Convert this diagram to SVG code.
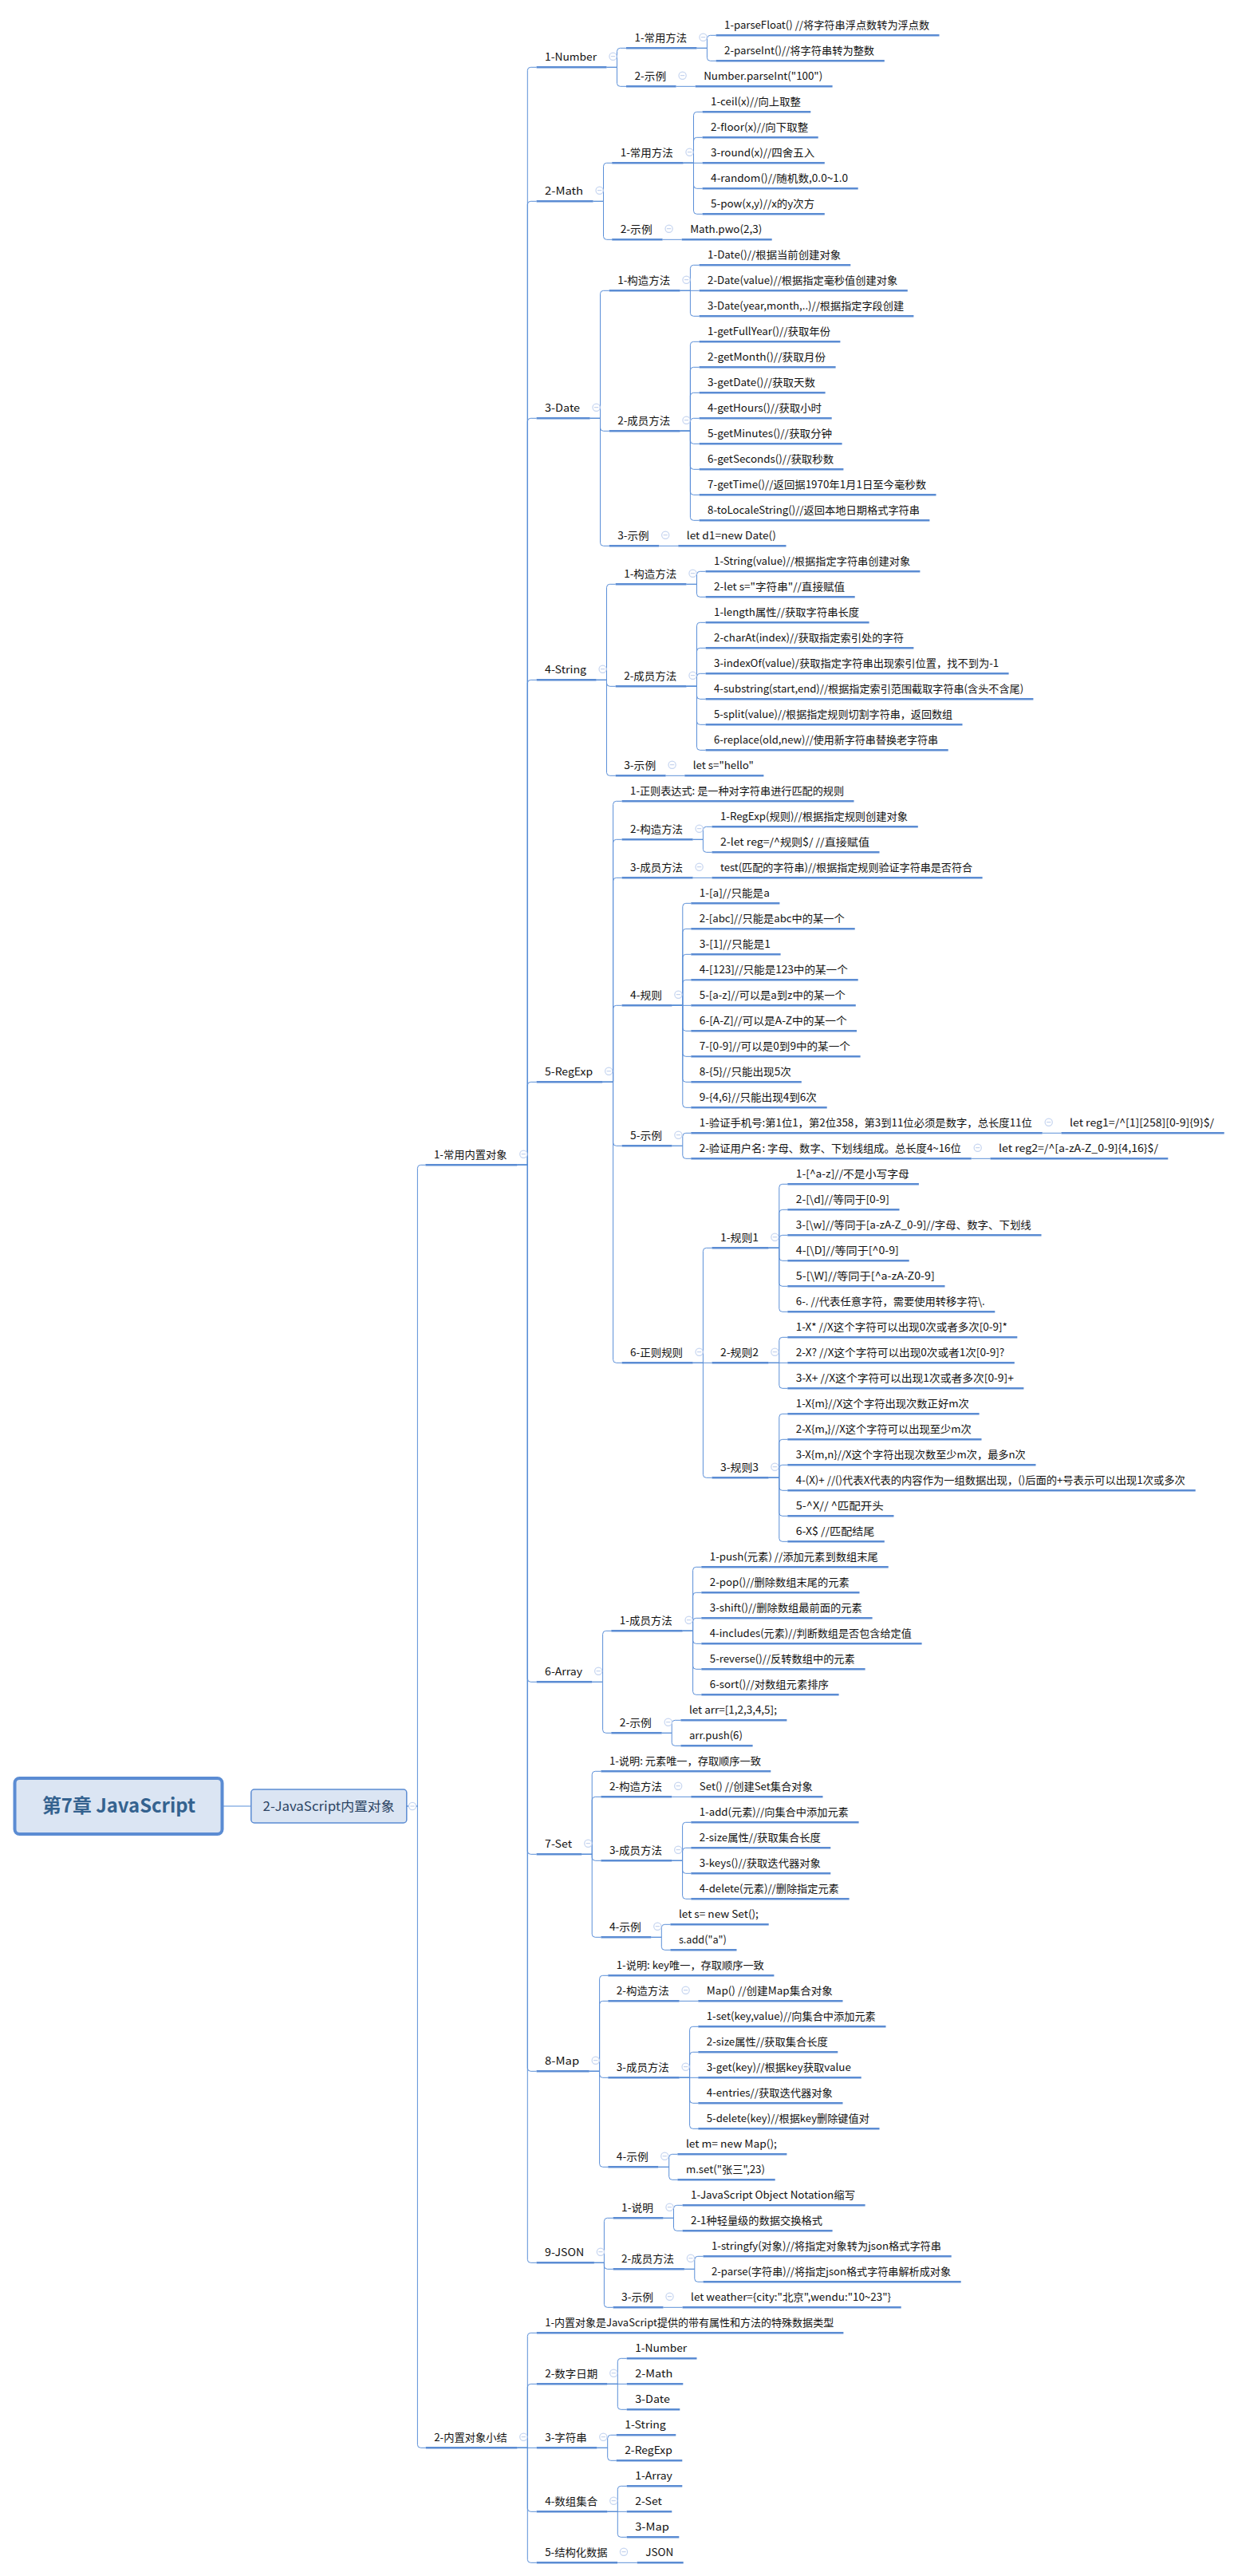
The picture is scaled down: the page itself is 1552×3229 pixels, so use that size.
<svg xmlns="http://www.w3.org/2000/svg" width="1552" height="3229" viewBox="0 0 1552 3229">
<style>
text{font-family:"Noto Sans CJK SC","Liberation Sans",sans-serif;font-size:13px;fill:#111}
.u{fill:none;stroke:#5b8cd3;stroke-width:2.6}
#edges path{fill:none;stroke:#5b8fd8;stroke-width:1}
.m circle{fill:#fff;stroke:#c6d5f0;stroke-width:1.2}
.m path{fill:none;stroke:#b9cbea;stroke-width:1}
.box{fill:#dbe5f3;stroke:#5b8cd3}
</style>
<defs><g id="m" class="m"><circle r="4.6"/><path d="M-2.6 0H2.6"/></g></defs>
<rect width="1552" height="3229" fill="#fff"/>
<g id="edges">
<path d="M280 2264H314.4"/>
<path d="M510 2264H523.4V1464.3q0-4 4-4H533.4"/>
<path d="M510 2264H523.4V3064.3q0 4 4 4H533.7"/>
<path d="M648.3 1460.3H661.3V88.3q0-4 4-4H672.6"/>
<path d="M648.3 1460.3H661.3V256.3q0-4 4-4H672.6"/>
<path d="M648.3 1460.3H661.3V528.3q0-4 4-4H672.6"/>
<path d="M648.3 1460.3H661.3V856.3q0-4 4-4H672.6"/>
<path d="M648.3 1460.3H661.3V1360.3q0-4 4-4H672.6"/>
<path d="M648.3 1460.3H661.3V2104.3q0 4 4 4H672.6"/>
<path d="M648.3 1460.3H661.3V2320.3q0 4 4 4H672.6"/>
<path d="M648.3 1460.3H661.3V2592.3q0 4 4 4H672.6"/>
<path d="M648.3 1460.3H661.3V2832.3q0 4 4 4H672.6"/>
<path d="M648.3 3068.3H661.3V2928.3q0-4 4-4H672.7"/>
<path d="M648.3 3068.3H661.3V2992.3q0-4 4-4H672.7"/>
<path d="M648.3 3068.3H672.7"/>
<path d="M648.3 3068.3H661.3V3144.3q0 4 4 4H672.7"/>
<path d="M648.3 3068.3H661.3V3208.3q0 4 4 4H672.7"/>
<path d="M760.5 84.3H773.5V64.3q0-4 4-4H785"/>
<path d="M760.5 84.3H773.5V104.3q0 4 4 4H785"/>
<path d="M873.5 60.3H886.4V48.3q0-4 4-4H897.6"/>
<path d="M873.5 60.3H886.4V72.3q0 4 4 4H897.6"/>
<path d="M847.6 108.3H871.7"/>
<path d="M743.6 252.3H756.5V208.3q0-4 4-4H767.2"/>
<path d="M743.6 252.3H756.5V296.3q0 4 4 4H767.2"/>
<path d="M856.5 204.3H869.5V144.3q0-4 4-4H880.6"/>
<path d="M856.5 204.3H869.5V176.3q0-4 4-4H880.6"/>
<path d="M856.5 204.3H880.6"/>
<path d="M856.5 204.3H869.5V232.3q0 4 4 4H880.6"/>
<path d="M856.5 204.3H869.5V264.3q0 4 4 4H880.6"/>
<path d="M830.6 300.3H854.7"/>
<path d="M739.6 524.3H752.5V368.3q0-4 4-4H763.7"/>
<path d="M739.6 524.3H752.5V536.3q0 4 4 4H763.7"/>
<path d="M739.6 524.3H752.5V680.3q0 4 4 4H763.7"/>
<path d="M852.5 364.3H865.4V336.3q0-4 4-4H876.6"/>
<path d="M852.5 364.3H876.6"/>
<path d="M852.5 364.3H865.4V392.3q0 4 4 4H876.6"/>
<path d="M852.5 540.3H865.4V432.3q0-4 4-4H876.6"/>
<path d="M852.5 540.3H865.4V464.3q0-4 4-4H876.6"/>
<path d="M852.5 540.3H865.4V496.3q0-4 4-4H876.6"/>
<path d="M852.5 540.3H865.4V528.3q0-4 4-4H876.6"/>
<path d="M852.5 540.3H865.4V552.3q0 4 4 4H876.6"/>
<path d="M852.5 540.3H865.4V584.3q0 4 4 4H876.6"/>
<path d="M852.5 540.3H865.4V616.3q0 4 4 4H876.6"/>
<path d="M852.5 540.3H865.4V648.3q0 4 4 4H876.6"/>
<path d="M826.2 684.3H850.3"/>
<path d="M747.6 852.3H760.5V736.3q0-4 4-4H771.7"/>
<path d="M747.6 852.3H760.5V856.3q0 4 4 4H771.7"/>
<path d="M747.6 852.3H760.5V968.3q0 4 4 4H771.7"/>
<path d="M860.5 732.3H873.5V720.3q0-4 4-4H884.6"/>
<path d="M860.5 732.3H873.5V744.3q0 4 4 4H884.6"/>
<path d="M860.5 860.3H873.5V784.3q0-4 4-4H884.6"/>
<path d="M860.5 860.3H873.5V816.3q0-4 4-4H884.6"/>
<path d="M860.5 860.3H873.5V848.3q0-4 4-4H884.6"/>
<path d="M860.5 860.3H873.5V872.3q0 4 4 4H884.6"/>
<path d="M860.5 860.3H873.5V904.3q0 4 4 4H884.6"/>
<path d="M860.5 860.3H873.5V936.3q0 4 4 4H884.6"/>
<path d="M834.6 972.3H858.3"/>
<path d="M755.2 1356.3H768.6V1008.3q0-4 4-4H779.6"/>
<path d="M755.2 1356.3H768.6V1056.3q0-4 4-4H779.6"/>
<path d="M755.2 1356.3H768.6V1104.3q0-4 4-4H779.6"/>
<path d="M755.2 1356.3H768.6V1264.3q0-4 4-4H779.6"/>
<path d="M755.2 1356.3H768.6V1432.3q0 4 4 4H779.6"/>
<path d="M755.2 1356.3H768.6V1704.3q0 4 4 4H779.6"/>
<path d="M868.6 1052.3H881.4V1040.3q0-4 4-4H892.5"/>
<path d="M868.6 1052.3H881.4V1064.3q0 4 4 4H892.5"/>
<path d="M868.6 1100.3H892.5"/>
<path d="M842.4 1260.3H855.8V1136.3q0-4 4-4H866.3"/>
<path d="M842.4 1260.3H855.8V1168.3q0-4 4-4H866.3"/>
<path d="M842.4 1260.3H855.8V1200.3q0-4 4-4H866.3"/>
<path d="M842.4 1260.3H855.8V1232.3q0-4 4-4H866.3"/>
<path d="M842.4 1260.3H866.3"/>
<path d="M842.4 1260.3H855.8V1288.3q0 4 4 4H866.3"/>
<path d="M842.4 1260.3H855.8V1320.3q0 4 4 4H866.3"/>
<path d="M842.4 1260.3H855.8V1352.3q0 4 4 4H866.3"/>
<path d="M842.4 1260.3H855.8V1384.3q0 4 4 4H866.3"/>
<path d="M842.4 1436.3H855.8V1424.3q0-4 4-4H866.3"/>
<path d="M842.4 1436.3H855.8V1448.3q0 4 4 4H866.3"/>
<path d="M1306.7 1420.3H1330.5"/>
<path d="M1217.7 1452.3H1241.5"/>
<path d="M868.6 1708.3H881.4V1568.3q0-4 4-4H892.5"/>
<path d="M868.6 1708.3H892.5"/>
<path d="M868.6 1708.3H881.4V1848.3q0 4 4 4H892.5"/>
<path d="M963.4 1564.3H976.8V1488.3q0-4 4-4H987.3"/>
<path d="M963.4 1564.3H976.8V1520.3q0-4 4-4H987.3"/>
<path d="M963.4 1564.3H976.8V1552.3q0-4 4-4H987.3"/>
<path d="M963.4 1564.3H976.8V1576.3q0 4 4 4H987.3"/>
<path d="M963.4 1564.3H976.8V1608.3q0 4 4 4H987.3"/>
<path d="M963.4 1564.3H976.8V1640.3q0 4 4 4H987.3"/>
<path d="M963.4 1708.3H976.8V1680.3q0-4 4-4H987.3"/>
<path d="M963.4 1708.3H987.3"/>
<path d="M963.4 1708.3H976.8V1736.3q0 4 4 4H987.3"/>
<path d="M963.4 1852.3H976.8V1776.3q0-4 4-4H987.3"/>
<path d="M963.4 1852.3H976.8V1808.3q0-4 4-4H987.3"/>
<path d="M963.4 1852.3H976.8V1840.3q0-4 4-4H987.3"/>
<path d="M963.4 1852.3H976.8V1864.3q0 4 4 4H987.3"/>
<path d="M963.4 1852.3H976.8V1896.3q0 4 4 4H987.3"/>
<path d="M963.4 1852.3H976.8V1928.3q0 4 4 4H987.3"/>
<path d="M742.2 2108.3H755.6V2048.3q0-4 4-4H766.3"/>
<path d="M742.2 2108.3H755.6V2168.3q0 4 4 4H766.3"/>
<path d="M855.6 2044.3H868.6V1968.3q0-4 4-4H879.3"/>
<path d="M855.6 2044.3H868.6V2000.3q0-4 4-4H879.3"/>
<path d="M855.6 2044.3H868.6V2032.3q0-4 4-4H879.3"/>
<path d="M855.6 2044.3H868.6V2056.3q0 4 4 4H879.3"/>
<path d="M855.6 2044.3H868.6V2088.3q0 4 4 4H879.3"/>
<path d="M855.6 2044.3H868.6V2120.3q0 4 4 4H879.3"/>
<path d="M829.7 2172.3H842.2V2160.3q0-4 4-4H853.4"/>
<path d="M829.7 2172.3H842.2V2184.3q0 4 4 4H853.4"/>
<path d="M729.3 2324.3H742.2V2224.3q0-4 4-4H753.4"/>
<path d="M729.3 2324.3H742.2V2256.3q0-4 4-4H753.4"/>
<path d="M729.3 2324.3H742.2V2328.3q0 4 4 4H753.4"/>
<path d="M729.3 2324.3H742.2V2424.3q0 4 4 4H753.4"/>
<path d="M842.2 2252.3H866.3"/>
<path d="M842.2 2332.3H855.6V2288.3q0-4 4-4H866.3"/>
<path d="M842.2 2332.3H855.6V2320.3q0-4 4-4H866.3"/>
<path d="M842.2 2332.3H855.6V2344.3q0 4 4 4H866.3"/>
<path d="M842.2 2332.3H855.6V2376.3q0 4 4 4H866.3"/>
<path d="M816.3 2428.3H829.3V2416.3q0-4 4-4H840.4"/>
<path d="M816.3 2428.3H829.3V2440.3q0 4 4 4H840.4"/>
<path d="M738.7 2596.3H751.6V2480.3q0-4 4-4H762.3"/>
<path d="M738.7 2596.3H751.6V2512.3q0-4 4-4H762.3"/>
<path d="M738.7 2596.3H751.6V2600.3q0 4 4 4H762.3"/>
<path d="M738.7 2596.3H751.6V2712.3q0 4 4 4H762.3"/>
<path d="M851.6 2508.3H875.3"/>
<path d="M851.6 2604.3H864.6V2544.3q0-4 4-4H875.3"/>
<path d="M851.6 2604.3H864.6V2576.3q0-4 4-4H875.3"/>
<path d="M851.6 2604.3H875.3"/>
<path d="M851.6 2604.3H864.6V2632.3q0 4 4 4H875.3"/>
<path d="M851.6 2604.3H864.6V2664.3q0 4 4 4H875.3"/>
<path d="M825.3 2716.3H838.7V2704.3q0-4 4-4H849.4"/>
<path d="M825.3 2716.3H838.7V2728.3q0 4 4 4H849.4"/>
<path d="M744.9 2836.3H757.4V2784.3q0-4 4-4H768.6"/>
<path d="M744.9 2836.3H757.4V2840.3q0 4 4 4H768.6"/>
<path d="M744.9 2836.3H757.4V2888.3q0 4 4 4H768.6"/>
<path d="M831.5 2780.3H844.5V2768.3q0-4 4-4H855.6"/>
<path d="M831.5 2780.3H844.5V2792.3q0 4 4 4H855.6"/>
<path d="M857.9 2844.3H870.8V2832.3q0-4 4-4H881.5"/>
<path d="M857.9 2844.3H870.8V2856.3q0 4 4 4H881.5"/>
<path d="M831.5 2892.3H855.6"/>
<path d="M761.3 2988.3H774.3V2960.3q0-4 4-4H785.7"/>
<path d="M761.3 2988.3H785.7"/>
<path d="M761.3 2988.3H774.3V3016.3q0 4 4 4H785.7"/>
<path d="M748.3 3068.3H761.7V3056.3q0-4 4-4H772.7"/>
<path d="M748.3 3068.3H761.7V3080.3q0 4 4 4H772.7"/>
<path d="M761.3 3148.3H774.3V3120.3q0-4 4-4H785.7"/>
<path d="M761.3 3148.3H785.7"/>
<path d="M761.3 3148.3H774.3V3176.3q0 4 4 4H785.7"/>
<path d="M774 3212.3H798.7"/>
</g>
<g id="root"><rect class="box" x="18.5" y="2229" width="260" height="70" rx="6" stroke-width="4"/><text x="53" y="2272" textLength="192" lengthAdjust="spacingAndGlyphs" style="font-size:24px;font-weight:700;fill:#34628f">第7章 JavaScript</text></g>
<g id="main"><rect class="box" x="314.8" y="2243" width="195" height="42" rx="4" stroke-width="1.5"/><text x="329.6" y="2270" textLength="165" lengthAdjust="spacingAndGlyphs" style="font-size:16px;fill:#2c4463">2-JavaScript内置对象</text><use href="#m" x="517" y="2264"/></g>
<g id="n1"><path class="u" d="M533.4 1460.3H648.3"/><text x="544" y="1452" textLength="91.5" lengthAdjust="spacingAndGlyphs">1-常用内置对象</text><use href="#m" x="656.3" y="1446.7"/></g>
<g id="n1-1"><path class="u" d="M672.6 84.3H760.5"/><text x="683.1" y="76" textLength="65" lengthAdjust="spacingAndGlyphs">1-Number</text><use href="#m" x="768.5" y="70.7"/></g>
<g id="n1-1-1"><path class="u" d="M785 60.3H873.5"/><text x="795.5" y="52" textLength="65.5" lengthAdjust="spacingAndGlyphs">1-常用方法</text><use href="#m" x="881.5" y="46.7"/></g>
<g id="n1-1-1-1"><path class="u" d="M897.6 44.3H1177.5"/><text x="908.1" y="36" textLength="257" lengthAdjust="spacingAndGlyphs">1-parseFloat() //将字符串浮点数转为浮点数</text></g>
<g id="n1-1-1-2"><path class="u" d="M897.6 76.3H1108.8"/><text x="908.1" y="68" textLength="188" lengthAdjust="spacingAndGlyphs">2-parseInt()//将字符串转为整数</text></g>
<g id="n1-1-2"><path class="u" d="M785 108.3H847.6"/><text x="795.5" y="100" textLength="39.6" lengthAdjust="spacingAndGlyphs">2-示例</text><use href="#m" x="855.6" y="94.7"/></g>
<g id="n1-1-2-1"><path class="u" d="M871.7 108.3H1043.6"/><text x="882.2" y="100" textLength="149" lengthAdjust="spacingAndGlyphs">Number.parseInt("100")</text></g>
<g id="n1-2"><path class="u" d="M672.6 252.3H743.6"/><text x="683.1" y="244" textLength="48" lengthAdjust="spacingAndGlyphs">2-Math</text><use href="#m" x="751.6" y="238.7"/></g>
<g id="n1-2-1"><path class="u" d="M767.2 204.3H856.5"/><text x="777.7" y="196" textLength="66" lengthAdjust="spacingAndGlyphs">1-常用方法</text><use href="#m" x="864.5" y="190.7"/></g>
<g id="n1-2-1-1"><path class="u" d="M880.6 140.3H1016.3"/><text x="891.1" y="132" textLength="112.7" lengthAdjust="spacingAndGlyphs">1-ceil(x)//向上取整</text></g>
<g id="n1-2-1-2"><path class="u" d="M880.6 172.3H1025.7"/><text x="891.1" y="164" textLength="122" lengthAdjust="spacingAndGlyphs">2-floor(x)//向下取整</text></g>
<g id="n1-2-1-3"><path class="u" d="M880.6 204.3H1033.8"/><text x="891.1" y="196" textLength="130" lengthAdjust="spacingAndGlyphs">3-round(x)//四舍五入</text></g>
<g id="n1-2-1-4"><path class="u" d="M880.6 236.3H1075.7"/><text x="891.1" y="228" textLength="172" lengthAdjust="spacingAndGlyphs">4-random()//随机数,0.0~1.0</text></g>
<g id="n1-2-1-5"><path class="u" d="M880.6 268.3H1033.8"/><text x="891.1" y="260" textLength="130" lengthAdjust="spacingAndGlyphs">5-pow(x,y)//x的y次方</text></g>
<g id="n1-2-2"><path class="u" d="M767.2 300.3H830.6"/><text x="777.7" y="292" textLength="40" lengthAdjust="spacingAndGlyphs">2-示例</text><use href="#m" x="838.6" y="286.7"/></g>
<g id="n1-2-2-1"><path class="u" d="M854.7 300.3H967.7"/><text x="865.2" y="292" textLength="90" lengthAdjust="spacingAndGlyphs">Math.pwo(2,3)</text></g>
<g id="n1-3"><path class="u" d="M672.6 524.3H739.6"/><text x="683.1" y="516" textLength="44" lengthAdjust="spacingAndGlyphs">3-Date</text><use href="#m" x="747.6" y="510.7"/></g>
<g id="n1-3-1"><path class="u" d="M763.7 364.3H852.5"/><text x="774.2" y="356" textLength="66" lengthAdjust="spacingAndGlyphs">1-构造方法</text><use href="#m" x="860.5" y="350.7"/></g>
<g id="n1-3-1-1"><path class="u" d="M876.6 332.3H1066.3"/><text x="887.1" y="324" textLength="167" lengthAdjust="spacingAndGlyphs">1-Date()//根据当前创建对象</text></g>
<g id="n1-3-1-2"><path class="u" d="M876.6 364.3H1137.8"/><text x="887.1" y="356" textLength="238" lengthAdjust="spacingAndGlyphs">2-Date(value)//根据指定毫秒值创建对象</text></g>
<g id="n1-3-1-3"><path class="u" d="M876.6 396.3H1145.4"/><text x="887.1" y="388" textLength="246" lengthAdjust="spacingAndGlyphs">3-Date(year,month,..)//根据指定字段创建</text></g>
<g id="n1-3-2"><path class="u" d="M763.7 540.3H852.5"/><text x="774.2" y="532" textLength="66" lengthAdjust="spacingAndGlyphs">2-成员方法</text><use href="#m" x="860.5" y="526.7"/></g>
<g id="n1-3-2-1"><path class="u" d="M876.6 428.3H1053.4"/><text x="887.1" y="420" textLength="154" lengthAdjust="spacingAndGlyphs">1-getFullYear()//获取年份</text></g>
<g id="n1-3-2-2"><path class="u" d="M876.6 460.3H1047.6"/><text x="887.1" y="452" textLength="148" lengthAdjust="spacingAndGlyphs">2-getMonth()//获取月份</text></g>
<g id="n1-3-2-3"><path class="u" d="M876.6 492.3H1034.6"/><text x="887.1" y="484" textLength="135" lengthAdjust="spacingAndGlyphs">3-getDate()//获取天数</text></g>
<g id="n1-3-2-4"><path class="u" d="M876.6 524.3H1042.7"/><text x="887.1" y="516" textLength="143" lengthAdjust="spacingAndGlyphs">4-getHours()//获取小时</text></g>
<g id="n1-3-2-5"><path class="u" d="M876.6 556.3H1055.6"/><text x="887.1" y="548" textLength="156" lengthAdjust="spacingAndGlyphs">5-getMinutes()//获取分钟</text></g>
<g id="n1-3-2-6"><path class="u" d="M876.6 588.3H1057.4"/><text x="887.1" y="580" textLength="158" lengthAdjust="spacingAndGlyphs">6-getSeconds()//获取秒数</text></g>
<g id="n1-3-2-7"><path class="u" d="M876.6 620.3H1173.5"/><text x="887.1" y="612" textLength="274" lengthAdjust="spacingAndGlyphs">7-getTime()//返回据1970年1月1日至今毫秒数</text></g>
<g id="n1-3-2-8"><path class="u" d="M876.6 652.3H1165.4"/><text x="887.1" y="644" textLength="266" lengthAdjust="spacingAndGlyphs">8-toLocaleString()//返回本地日期格式字符串</text></g>
<g id="n1-3-3"><path class="u" d="M763.7 684.3H826.2"/><text x="774.2" y="676" textLength="39.5" lengthAdjust="spacingAndGlyphs">3-示例</text><use href="#m" x="834.2" y="670.7"/></g>
<g id="n1-3-3-1"><path class="u" d="M850.3 684.3H985.5"/><text x="860.8" y="676" textLength="112" lengthAdjust="spacingAndGlyphs">let d1=new Date()</text></g>
<g id="n1-4"><path class="u" d="M672.6 852.3H747.6"/><text x="683.1" y="844" textLength="52" lengthAdjust="spacingAndGlyphs">4-String</text><use href="#m" x="755.6" y="838.7"/></g>
<g id="n1-4-1"><path class="u" d="M771.7 732.3H860.5"/><text x="782.2" y="724" textLength="66" lengthAdjust="spacingAndGlyphs">1-构造方法</text><use href="#m" x="868.5" y="718.7"/></g>
<g id="n1-4-1-1"><path class="u" d="M884.6 716.3H1153.4"/><text x="895.1" y="708" textLength="246" lengthAdjust="spacingAndGlyphs">1-String(value)//根据指定字符串创建对象</text></g>
<g id="n1-4-1-2"><path class="u" d="M884.6 748.3H1071.7"/><text x="895.1" y="740" textLength="164" lengthAdjust="spacingAndGlyphs">2-let s="字符串"//直接赋值</text></g>
<g id="n1-4-2"><path class="u" d="M771.7 860.3H860.5"/><text x="782.2" y="852" textLength="66" lengthAdjust="spacingAndGlyphs">2-成员方法</text><use href="#m" x="868.5" y="846.7"/></g>
<g id="n1-4-2-1"><path class="u" d="M884.6 780.3H1089.6"/><text x="895.1" y="772" textLength="182" lengthAdjust="spacingAndGlyphs">1-length属性//获取字符串长度</text></g>
<g id="n1-4-2-2"><path class="u" d="M884.6 812.3H1145.4"/><text x="895.1" y="804" textLength="238" lengthAdjust="spacingAndGlyphs">2-charAt(index)//获取指定索引处的字符</text></g>
<g id="n1-4-2-3"><path class="u" d="M884.6 844.3H1264.6"/><text x="895.1" y="836" textLength="357" lengthAdjust="spacingAndGlyphs">3-indexOf(value)/获取指定字符串出现索引位置，找不到为-1</text></g>
<g id="n1-4-2-4"><path class="u" d="M884.6 876.3H1295.4"/><text x="895.1" y="868" textLength="388" lengthAdjust="spacingAndGlyphs">4-substring(start,end)//根据指定索引范围截取字符串(含头不含尾)</text></g>
<g id="n1-4-2-5"><path class="u" d="M884.6 908.3H1206.5"/><text x="895.1" y="900" textLength="299" lengthAdjust="spacingAndGlyphs">5-split(value)//根据指定规则切割字符串，返回数组</text></g>
<g id="n1-4-2-6"><path class="u" d="M884.6 940.3H1188.7"/><text x="895.1" y="932" textLength="281" lengthAdjust="spacingAndGlyphs">6-replace(old,new)//使用新字符串替换老字符串</text></g>
<g id="n1-4-3"><path class="u" d="M771.7 972.3H834.6"/><text x="782.2" y="964" textLength="40" lengthAdjust="spacingAndGlyphs">3-示例</text><use href="#m" x="842.6" y="958.7"/></g>
<g id="n1-4-3-1"><path class="u" d="M858.3 972.3H957.4"/><text x="868.8" y="964" textLength="76" lengthAdjust="spacingAndGlyphs">let s="hello"</text></g>
<g id="n1-5"><path class="u" d="M672.6 1356.3H755.2"/><text x="683.1" y="1348" textLength="60" lengthAdjust="spacingAndGlyphs">5-RegExp</text><use href="#m" x="763.2" y="1342.7"/></g>
<g id="n1-5-1"><path class="u" d="M779.6 1004.3H1070.5"/><text x="790.1" y="996" textLength="268" lengthAdjust="spacingAndGlyphs">1-正则表达式: 是一种对字符串进行匹配的规则</text></g>
<g id="n1-5-2"><path class="u" d="M779.6 1052.3H868.6"/><text x="790.1" y="1044" textLength="66" lengthAdjust="spacingAndGlyphs">2-构造方法</text><use href="#m" x="876.6" y="1038.7"/></g>
<g id="n1-5-2-1"><path class="u" d="M892.5 1036.3H1150.8"/><text x="903" y="1028" textLength="235" lengthAdjust="spacingAndGlyphs">1-RegExp(规则)//根据指定规则创建对象</text></g>
<g id="n1-5-2-2"><path class="u" d="M892.5 1068.3H1102.5"/><text x="903" y="1060" textLength="187" lengthAdjust="spacingAndGlyphs">2-let reg=/^规则$/ //直接赋值</text></g>
<g id="n1-5-3"><path class="u" d="M779.6 1100.3H868.6"/><text x="790.1" y="1092" textLength="66" lengthAdjust="spacingAndGlyphs">3-成员方法</text><use href="#m" x="876.6" y="1086.7"/></g>
<g id="n1-5-3-1"><path class="u" d="M892.5 1100.3H1231.6"/><text x="903" y="1092" textLength="316" lengthAdjust="spacingAndGlyphs">test(匹配的字符串)//根据指定规则验证字符串是否符合</text></g>
<g id="n1-5-4"><path class="u" d="M779.6 1260.3H842.4"/><text x="790.1" y="1252" textLength="40" lengthAdjust="spacingAndGlyphs">4-规则</text><use href="#m" x="850.4" y="1246.7"/></g>
<g id="n1-5-4-1"><path class="u" d="M866.3 1132.3H977.4"/><text x="876.8" y="1124" textLength="88" lengthAdjust="spacingAndGlyphs">1-[a]//只能是a</text></g>
<g id="n1-5-4-2"><path class="u" d="M866.3 1164.3H1071.7"/><text x="876.8" y="1156" textLength="182" lengthAdjust="spacingAndGlyphs">2-[abc]//只能是abc中的某一个</text></g>
<g id="n1-5-4-3"><path class="u" d="M866.3 1196.3H978.6"/><text x="876.8" y="1188" textLength="89" lengthAdjust="spacingAndGlyphs">3-[1]//只能是1</text></g>
<g id="n1-5-4-4"><path class="u" d="M866.3 1228.3H1075.7"/><text x="876.8" y="1220" textLength="186" lengthAdjust="spacingAndGlyphs">4-[123]//只能是123中的某一个</text></g>
<g id="n1-5-4-5"><path class="u" d="M866.3 1260.3H1072.8"/><text x="876.8" y="1252" textLength="183" lengthAdjust="spacingAndGlyphs">5-[a-z]//可以是a到z中的某一个</text></g>
<g id="n1-5-4-6"><path class="u" d="M866.3 1292.3H1074"/><text x="876.8" y="1284" textLength="185" lengthAdjust="spacingAndGlyphs">6-[A-Z]//可以是A-Z中的某一个</text></g>
<g id="n1-5-4-7"><path class="u" d="M866.3 1324.3H1078.6"/><text x="876.8" y="1316" textLength="189" lengthAdjust="spacingAndGlyphs">7-[0-9]//可以是0到9中的某一个</text></g>
<g id="n1-5-4-8"><path class="u" d="M866.3 1356.3H1004.8"/><text x="876.8" y="1348" textLength="115" lengthAdjust="spacingAndGlyphs">8-{5}//只能出现5次</text></g>
<g id="n1-5-4-9"><path class="u" d="M866.3 1388.3H1036.7"/><text x="876.8" y="1380" textLength="147" lengthAdjust="spacingAndGlyphs">9-{4,6}//只能出现4到6次</text></g>
<g id="n1-5-5"><path class="u" d="M779.6 1436.3H842.4"/><text x="790.1" y="1428" textLength="40" lengthAdjust="spacingAndGlyphs">5-示例</text><use href="#m" x="850.4" y="1422.7"/></g>
<g id="n1-5-5-1"><path class="u" d="M866.3 1420.3H1306.7"/><text x="876.8" y="1412" textLength="417" lengthAdjust="spacingAndGlyphs">1-验证手机号:第1位1，第2位358，第3到11位必须是数字，总长度11位</text><use href="#m" x="1314.7" y="1406.7"/></g>
<g id="n1-5-5-1-1"><path class="u" d="M1330.5 1420.3H1534.7"/><text x="1341" y="1412" textLength="181" lengthAdjust="spacingAndGlyphs">let reg1=/^[1][258][0-9]{9}$/</text></g>
<g id="n1-5-5-2"><path class="u" d="M866.3 1452.3H1217.7"/><text x="876.8" y="1444" textLength="328" lengthAdjust="spacingAndGlyphs">2-验证用户名: 字母、数字、下划线组成。总长度4~16位</text><use href="#m" x="1225.7" y="1438.7"/></g>
<g id="n1-5-5-2-1"><path class="u" d="M1241.5 1452.3H1464.3"/><text x="1252" y="1444" textLength="200" lengthAdjust="spacingAndGlyphs">let reg2=/^[a-zA-Z_0-9]{4,16}$/</text></g>
<g id="n1-5-6"><path class="u" d="M779.6 1708.3H868.6"/><text x="790.1" y="1700" textLength="66" lengthAdjust="spacingAndGlyphs">6-正则规则</text><use href="#m" x="876.6" y="1694.7"/></g>
<g id="n1-5-6-1"><path class="u" d="M892.5 1564.3H963.4"/><text x="903" y="1556" textLength="48" lengthAdjust="spacingAndGlyphs">1-规则1</text><use href="#m" x="971.4" y="1550.7"/></g>
<g id="n1-5-6-1-1"><path class="u" d="M987.3 1484.3H1151.9"/><text x="997.8" y="1476" textLength="142" lengthAdjust="spacingAndGlyphs">1-[^a-z]//不是小写字母</text></g>
<g id="n1-5-6-1-2"><path class="u" d="M987.3 1516.3H1127.5"/><text x="997.8" y="1508" textLength="117" lengthAdjust="spacingAndGlyphs">2-[\d]//等同于[0-9]</text></g>
<g id="n1-5-6-1-3"><path class="u" d="M987.3 1548.3H1305.5"/><text x="997.8" y="1540" textLength="295" lengthAdjust="spacingAndGlyphs">3-[\w]//等同于[a-zA-Z_0-9]//字母、数字、下划线</text></g>
<g id="n1-5-6-1-4"><path class="u" d="M987.3 1580.3H1139.7"/><text x="997.8" y="1572" textLength="129" lengthAdjust="spacingAndGlyphs">4-[\D]//等同于[^0-9]</text></g>
<g id="n1-5-6-1-5"><path class="u" d="M987.3 1612.3H1184.5"/><text x="997.8" y="1604" textLength="174" lengthAdjust="spacingAndGlyphs">5-[\W]//等同于[^a-zA-Z0-9]</text></g>
<g id="n1-5-6-1-6"><path class="u" d="M987.3 1644.3H1247.3"/><text x="997.8" y="1636" textLength="237" lengthAdjust="spacingAndGlyphs">6-. //代表任意字符，需要使用转移字符\.</text></g>
<g id="n1-5-6-2"><path class="u" d="M892.5 1708.3H963.4"/><text x="903" y="1700" textLength="48" lengthAdjust="spacingAndGlyphs">2-规则2</text><use href="#m" x="971.4" y="1694.7"/></g>
<g id="n1-5-6-2-1"><path class="u" d="M987.3 1676.3H1275.3"/><text x="997.8" y="1668" textLength="265" lengthAdjust="spacingAndGlyphs">1-X* //X这个字符可以出现0次或者多次[0-9]*</text></g>
<g id="n1-5-6-2-2"><path class="u" d="M987.3 1708.3H1271.8"/><text x="997.8" y="1700" textLength="261.5" lengthAdjust="spacingAndGlyphs">2-X? //X这个字符可以出现0次或者1次[0-9]?</text></g>
<g id="n1-5-6-2-3"><path class="u" d="M987.3 1740.3H1283.4"/><text x="997.8" y="1732" textLength="273" lengthAdjust="spacingAndGlyphs">3-X+ //X这个字符可以出现1次或者多次[0-9]+</text></g>
<g id="n1-5-6-3"><path class="u" d="M892.5 1852.3H963.4"/><text x="903" y="1844" textLength="48" lengthAdjust="spacingAndGlyphs">3-规则3</text><use href="#m" x="971.4" y="1838.7"/></g>
<g id="n1-5-6-3-1"><path class="u" d="M987.3 1772.3H1227.6"/><text x="997.8" y="1764" textLength="217" lengthAdjust="spacingAndGlyphs">1-X{m}//X这个字符出现次数正好m次</text></g>
<g id="n1-5-6-3-2"><path class="u" d="M987.3 1804.3H1230.5"/><text x="997.8" y="1796" textLength="220" lengthAdjust="spacingAndGlyphs">2-X{m,}//X这个字符可以出现至少m次</text></g>
<g id="n1-5-6-3-3"><path class="u" d="M987.3 1836.3H1298.5"/><text x="997.8" y="1828" textLength="288" lengthAdjust="spacingAndGlyphs">3-X{m,n}//X这个字符出现次数至少m次，最多n次</text></g>
<g id="n1-5-6-3-4"><path class="u" d="M987.3 1868.3H1498.7"/><text x="997.8" y="1860" textLength="488" lengthAdjust="spacingAndGlyphs">4-(X)+ //()代表X代表的内容作为一组数据出现，()后面的+号表示可以出现1次或多次</text></g>
<g id="n1-5-6-3-5"><path class="u" d="M987.3 1900.3H1120.5"/><text x="997.8" y="1892" textLength="110" lengthAdjust="spacingAndGlyphs">5-^X// ^匹配开头</text></g>
<g id="n1-5-6-3-6"><path class="u" d="M987.3 1932.3H1108.8"/><text x="997.8" y="1924" textLength="98.5" lengthAdjust="spacingAndGlyphs">6-X$ //匹配结尾</text></g>
<g id="n1-6"><path class="u" d="M672.6 2108.3H742.2"/><text x="683.1" y="2100" textLength="47" lengthAdjust="spacingAndGlyphs">6-Array</text><use href="#m" x="750.2" y="2094.7"/></g>
<g id="n1-6-1"><path class="u" d="M766.3 2044.3H855.6"/><text x="776.8" y="2036" textLength="66" lengthAdjust="spacingAndGlyphs">1-成员方法</text><use href="#m" x="863.6" y="2030.7"/></g>
<g id="n1-6-1-1"><path class="u" d="M879.3 1964.3H1113.7"/><text x="889.8" y="1956" textLength="211" lengthAdjust="spacingAndGlyphs">1-push(元素) //添加元素到数组末尾</text></g>
<g id="n1-6-1-2"><path class="u" d="M879.3 1996.3H1077.5"/><text x="889.8" y="1988" textLength="175" lengthAdjust="spacingAndGlyphs">2-pop()//删除数组末尾的元素</text></g>
<g id="n1-6-1-3"><path class="u" d="M879.3 2028.3H1093.6"/><text x="889.8" y="2020" textLength="191" lengthAdjust="spacingAndGlyphs">3-shift()//删除数组最前面的元素</text></g>
<g id="n1-6-1-4"><path class="u" d="M879.3 2060.3H1155.6"/><text x="889.8" y="2052" textLength="253" lengthAdjust="spacingAndGlyphs">4-includes(元素)//判断数组是否包含给定值</text></g>
<g id="n1-6-1-5"><path class="u" d="M879.3 2092.3H1084.6"/><text x="889.8" y="2084" textLength="182" lengthAdjust="spacingAndGlyphs">5-reverse()//反转数组中的元素</text></g>
<g id="n1-6-1-6"><path class="u" d="M879.3 2124.3H1051.6"/><text x="889.8" y="2116" textLength="149" lengthAdjust="spacingAndGlyphs">6-sort()//对数组元素排序</text></g>
<g id="n1-6-2"><path class="u" d="M766.3 2172.3H829.7"/><text x="776.8" y="2164" textLength="40" lengthAdjust="spacingAndGlyphs">2-示例</text><use href="#m" x="837.7" y="2158.7"/></g>
<g id="n1-6-2-1"><path class="u" d="M853.4 2156.3H986.4"/><text x="863.9" y="2148" textLength="110" lengthAdjust="spacingAndGlyphs">let arr=[1,2,3,4,5];</text></g>
<g id="n1-6-2-2"><path class="u" d="M853.4 2188.3H943.6"/><text x="863.9" y="2180" textLength="67" lengthAdjust="spacingAndGlyphs">arr.push(6)</text></g>
<g id="n1-7"><path class="u" d="M672.6 2324.3H729.3"/><text x="683.1" y="2316" textLength="34" lengthAdjust="spacingAndGlyphs">7-Set</text><use href="#m" x="737.3" y="2310.7"/></g>
<g id="n1-7-1"><path class="u" d="M753.4 2220.3H966.3"/><text x="763.9" y="2212" textLength="190" lengthAdjust="spacingAndGlyphs">1-说明: 元素唯一，存取顺序一致</text></g>
<g id="n1-7-2"><path class="u" d="M753.4 2252.3H842.2"/><text x="763.9" y="2244" textLength="66" lengthAdjust="spacingAndGlyphs">2-构造方法</text><use href="#m" x="850.2" y="2238.7"/></g>
<g id="n1-7-2-1"><path class="u" d="M866.3 2252.3H1031.5"/><text x="876.8" y="2244" textLength="142" lengthAdjust="spacingAndGlyphs">Set() //创建Set集合对象</text></g>
<g id="n1-7-3"><path class="u" d="M753.4 2332.3H842.2"/><text x="763.9" y="2324" textLength="66" lengthAdjust="spacingAndGlyphs">3-成员方法</text><use href="#m" x="850.2" y="2318.7"/></g>
<g id="n1-7-3-1"><path class="u" d="M866.3 2284.3H1076.6"/><text x="876.8" y="2276" textLength="187" lengthAdjust="spacingAndGlyphs">1-add(元素)//向集合中添加元素</text></g>
<g id="n1-7-3-2"><path class="u" d="M866.3 2316.3H1041.3"/><text x="876.8" y="2308" textLength="152" lengthAdjust="spacingAndGlyphs">2-size属性//获取集合长度</text></g>
<g id="n1-7-3-3"><path class="u" d="M866.3 2348.3H1041.3"/><text x="876.8" y="2340" textLength="152" lengthAdjust="spacingAndGlyphs">3-keys()//获取迭代器对象</text></g>
<g id="n1-7-3-4"><path class="u" d="M866.3 2380.3H1064.6"/><text x="876.8" y="2372" textLength="175" lengthAdjust="spacingAndGlyphs">4-delete(元素)//删除指定元素</text></g>
<g id="n1-7-4"><path class="u" d="M753.4 2428.3H816.3"/><text x="763.9" y="2420" textLength="40" lengthAdjust="spacingAndGlyphs">4-示例</text><use href="#m" x="824.3" y="2414.7"/></g>
<g id="n1-7-4-1"><path class="u" d="M840.4 2412.3H963.7"/><text x="850.9" y="2404" textLength="100" lengthAdjust="spacingAndGlyphs">let s= new Set();</text></g>
<g id="n1-7-4-2"><path class="u" d="M840.4 2444.3H923.5"/><text x="850.9" y="2436" textLength="60" lengthAdjust="spacingAndGlyphs">s.add("a")</text></g>
<g id="n1-8"><path class="u" d="M672.6 2596.3H738.7"/><text x="683.1" y="2588" textLength="43" lengthAdjust="spacingAndGlyphs">8-Map</text><use href="#m" x="746.7" y="2582.7"/></g>
<g id="n1-8-1"><path class="u" d="M762.3 2476.3H970.4"/><text x="772.8" y="2468" textLength="185" lengthAdjust="spacingAndGlyphs">1-说明: key唯一，存取顺序一致</text></g>
<g id="n1-8-2"><path class="u" d="M762.3 2508.3H851.6"/><text x="772.8" y="2500" textLength="66" lengthAdjust="spacingAndGlyphs">2-构造方法</text><use href="#m" x="859.6" y="2494.7"/></g>
<g id="n1-8-2-1"><path class="u" d="M875.3 2508.3H1056.5"/><text x="885.8" y="2500" textLength="158" lengthAdjust="spacingAndGlyphs">Map() //创建Map集合对象</text></g>
<g id="n1-8-3"><path class="u" d="M762.3 2604.3H851.6"/><text x="772.8" y="2596" textLength="66" lengthAdjust="spacingAndGlyphs">3-成员方法</text><use href="#m" x="859.6" y="2590.7"/></g>
<g id="n1-8-3-1"><path class="u" d="M875.3 2540.3H1110.5"/><text x="885.8" y="2532" textLength="212" lengthAdjust="spacingAndGlyphs">1-set(key,value)//向集合中添加元素</text></g>
<g id="n1-8-3-2"><path class="u" d="M875.3 2572.3H1050.3"/><text x="885.8" y="2564" textLength="152" lengthAdjust="spacingAndGlyphs">2-size属性//获取集合长度</text></g>
<g id="n1-8-3-3"><path class="u" d="M875.3 2604.3H1079.7"/><text x="885.8" y="2596" textLength="181" lengthAdjust="spacingAndGlyphs">3-get(key)//根据key获取value</text></g>
<g id="n1-8-3-4"><path class="u" d="M875.3 2636.3H1056.5"/><text x="885.8" y="2628" textLength="158" lengthAdjust="spacingAndGlyphs">4-entries//获取迭代器对象</text></g>
<g id="n1-8-3-5"><path class="u" d="M875.3 2668.3H1102.5"/><text x="885.8" y="2660" textLength="204" lengthAdjust="spacingAndGlyphs">5-delete(key)//根据key删除键值对</text></g>
<g id="n1-8-4"><path class="u" d="M762.3 2716.3H825.3"/><text x="772.8" y="2708" textLength="40" lengthAdjust="spacingAndGlyphs">4-示例</text><use href="#m" x="833.3" y="2702.7"/></g>
<g id="n1-8-4-1"><path class="u" d="M849.4 2700.3H986.4"/><text x="859.9" y="2692" textLength="114" lengthAdjust="spacingAndGlyphs">let m= new Map();</text></g>
<g id="n1-8-4-2"><path class="u" d="M849.4 2732.3H971.7"/><text x="859.9" y="2724" textLength="99" lengthAdjust="spacingAndGlyphs">m.set("张三",23)</text></g>
<g id="n1-9"><path class="u" d="M672.6 2836.3H744.9"/><text x="683.1" y="2828" textLength="49" lengthAdjust="spacingAndGlyphs">9-JSON</text><use href="#m" x="752.9" y="2822.7"/></g>
<g id="n1-9-1"><path class="u" d="M768.6 2780.3H831.5"/><text x="779.1" y="2772" textLength="40" lengthAdjust="spacingAndGlyphs">1-说明</text><use href="#m" x="839.5" y="2766.7"/></g>
<g id="n1-9-1-1"><path class="u" d="M855.6 2764.3H1084.6"/><text x="866.1" y="2756" textLength="206" lengthAdjust="spacingAndGlyphs">1-JavaScript Object Notation缩写</text></g>
<g id="n1-9-1-2"><path class="u" d="M855.6 2796.3H1043.6"/><text x="866.1" y="2788" textLength="165" lengthAdjust="spacingAndGlyphs">2-1种轻量级的数据交换格式</text></g>
<g id="n1-9-2"><path class="u" d="M768.6 2844.3H857.9"/><text x="779.1" y="2836" textLength="66" lengthAdjust="spacingAndGlyphs">2-成员方法</text><use href="#m" x="865.9" y="2830.7"/></g>
<g id="n1-9-2-1"><path class="u" d="M881.5 2828.3H1192.7"/><text x="892" y="2820" textLength="288" lengthAdjust="spacingAndGlyphs">1-stringfy(对象)//将指定对象转为json格式字符串</text></g>
<g id="n1-9-2-2"><path class="u" d="M881.5 2860.3H1204.7"/><text x="892" y="2852" textLength="300" lengthAdjust="spacingAndGlyphs">2-parse(字符串)//将指定json格式字符串解析成对象</text></g>
<g id="n1-9-3"><path class="u" d="M768.6 2892.3H831.5"/><text x="779.1" y="2884" textLength="40" lengthAdjust="spacingAndGlyphs">3-示例</text><use href="#m" x="839.5" y="2878.7"/></g>
<g id="n1-9-3-1"><path class="u" d="M855.6 2892.3H1129.7"/><text x="866.1" y="2884" textLength="251" lengthAdjust="spacingAndGlyphs">let weather={city:"北京",wendu:"10~23"}</text></g>
<g id="n2"><path class="u" d="M533.7 3068.3H648.3"/><text x="544.2" y="3060" textLength="91.5" lengthAdjust="spacingAndGlyphs">2-内置对象小结</text><use href="#m" x="656.3" y="3054.7"/></g>
<g id="n2-1"><path class="u" d="M672.7 2924.3H1057.4"/><text x="683.2" y="2916" textLength="362" lengthAdjust="spacingAndGlyphs">1-内置对象是JavaScript提供的带有属性和方法的特殊数据类型</text></g>
<g id="n2-2"><path class="u" d="M672.7 2988.3H761.3"/><text x="683.2" y="2980" textLength="66" lengthAdjust="spacingAndGlyphs">2-数字日期</text><use href="#m" x="769.3" y="2974.7"/></g>
<g id="n2-2-1"><path class="u" d="M785.7 2956.3H873.5"/><text x="796.2" y="2948" textLength="65" lengthAdjust="spacingAndGlyphs">1-Number</text></g>
<g id="n2-2-2"><path class="u" d="M785.7 2988.3H856.3"/><text x="796.2" y="2980" textLength="47" lengthAdjust="spacingAndGlyphs">2-Math</text></g>
<g id="n2-2-3"><path class="u" d="M785.7 3020.3H852.3"/><text x="796.2" y="3012" textLength="43.6" lengthAdjust="spacingAndGlyphs">3-Date</text></g>
<g id="n2-3"><path class="u" d="M672.7 3068.3H748.3"/><text x="683.2" y="3060" textLength="52.6" lengthAdjust="spacingAndGlyphs">3-字符串</text><use href="#m" x="756.3" y="3054.7"/></g>
<g id="n2-3-1"><path class="u" d="M772.7 3052.3H847.3"/><text x="783.2" y="3044" textLength="51.6" lengthAdjust="spacingAndGlyphs">1-String</text></g>
<g id="n2-3-2"><path class="u" d="M772.7 3084.3H855.3"/><text x="783.2" y="3076" textLength="59.6" lengthAdjust="spacingAndGlyphs">2-RegExp</text></g>
<g id="n2-4"><path class="u" d="M672.7 3148.3H761.3"/><text x="683.2" y="3140" textLength="66" lengthAdjust="spacingAndGlyphs">4-数组集合</text><use href="#m" x="769.3" y="3134.7"/></g>
<g id="n2-4-1"><path class="u" d="M785.7 3116.3H855.3"/><text x="796.2" y="3108" textLength="46.6" lengthAdjust="spacingAndGlyphs">1-Array</text></g>
<g id="n2-4-2"><path class="u" d="M785.7 3148.3H842.3"/><text x="796.2" y="3140" textLength="33.6" lengthAdjust="spacingAndGlyphs">2-Set</text></g>
<g id="n2-4-3"><path class="u" d="M785.7 3180.3H851.3"/><text x="796.2" y="3172" textLength="42.6" lengthAdjust="spacingAndGlyphs">3-Map</text></g>
<g id="n2-5"><path class="u" d="M672.7 3212.3H774"/><text x="683.2" y="3204" textLength="78.3" lengthAdjust="spacingAndGlyphs">5-结构化数据</text><use href="#m" x="782" y="3198.7"/></g>
<g id="n2-5-1"><path class="u" d="M798.7 3212.3H856.7"/><text x="809.2" y="3204" textLength="35" lengthAdjust="spacingAndGlyphs">JSON</text></g>
</svg>
